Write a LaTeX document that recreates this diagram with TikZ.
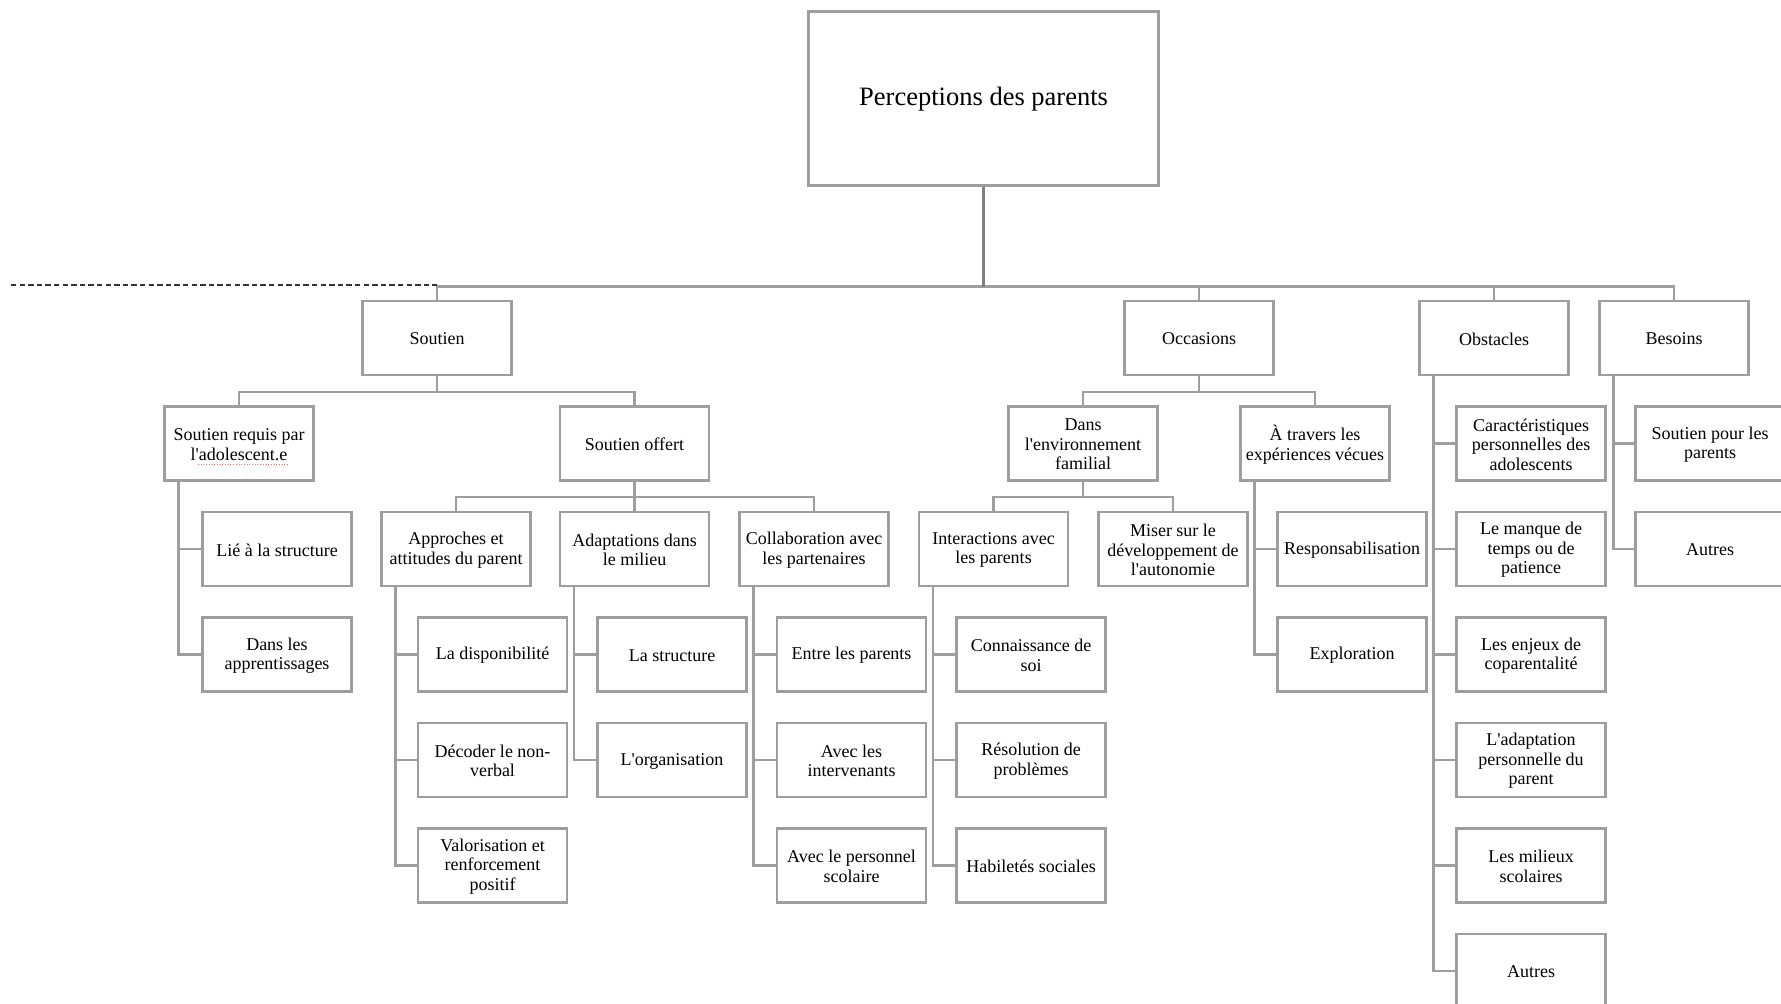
\documentclass[tikz,border=0pt]{standalone}
\usepackage{fontspec}
\setmainfont{Liberation Serif}[Ligatures=TeXOff]

\definecolor{boxgray}{RGB}{158,158,158}
\definecolor{trunkgray}{RGB}{128,128,128}
\definecolor{spellred}{RGB}{230,120,120}

\newcommand{\boxfont}{\fontsize{18}{19.5}\selectfont}
\newcommand{\titlefont}{\fontsize{26.5}{30}\selectfont}

\tikzset{
  frame/.style={draw=boxgray, line width=2.4pt, fill=white,
    minimum width=149pt, minimum height=74pt, inner sep=0pt},
  boxtext/.style={font=\boxfont, align=center, inner sep=0pt, yshift=-1pt},
  box/.style={frame, label={[boxtext]center:{#1}}},
  topbox/.style={frame, minimum width=350pt, minimum height=174pt,
    label={[boxtext, font=\titlefont]center:{#1}}},
  link/.style={draw=boxgray, line width=2.4pt},
  trunk/.style={draw=trunkgray, line width=3pt},
  guide/.style={draw=black!80, line width=1.5pt, dash pattern=on 5.3pt off 3.3pt},
  squiggle/.style={draw=spellred, line width=0.7pt, dotted},
}

\begin{document}
\begin{tikzpicture}[x=1pt, y=-1pt]
\useasboundingbox (0,0) rectangle (1781,1004);
\clip (0,0) rectangle (1781,1004);
\fill[white] (0,0) rectangle (1781,1004);

% root
\node[topbox={Perceptions des parents}] (top) at (983.6,98.3) {};

% first level
\node[box={Soutien}]   (soutien)   at (437,338)  {};
\node[box={Occasions}] (occasions) at (1199,338) {};
\node[box={Obstacles}] (obstacles) at (1494,338) {};
\node[box={Besoins}]   (besoins)   at (1674,338) {};

% second row
\node[box={Soutien requis par\\l'adolescent.e}]           (requis)      at (239,443.5)   {};
\node[box={Soutien offert}]                               (offert)      at (634.5,443.5) {};
\node[box={Dans\\l'environnement\\familial}]              (envfam)      at (1083,443.5)  {};
\node[box={À travers les\\expériences vécues}]            (travers)     at (1315,443.5)  {};
\node[box={Caractéristiques\\personnelles des\\adolescents}] (caract)   at (1531,443.5)  {};
\node[box={Soutien pour les\\parents}]                    (soutparents) at (1710,443.5)  {};

% third row
\node[box={Lié à la structure}]                      (lie)          at (277,549)   {};
\node[box={Approches et\\attitudes du parent}]       (approches)    at (456,549)   {};
\node[box={Adaptations dans\\le milieu}]             (adaptations)  at (634.5,549) {};
\node[box={Collaboration avec\\les partenaires}]     (collab)       at (814,549)   {};
\node[box={Interactions avec\\les parents}]          (interactions) at (993.5,549) {};
\node[box={Miser sur le\\développement de\\l'autonomie}] (miser)    at (1173,549)  {};
\node[box={Responsabilisation}]                      (respons)      at (1352,549)  {};
\node[box={Le manque de\\temps ou de\\patience}]     (manque)       at (1531,549)  {};
\node[box={Autres}]                                  (autresb)      at (1710,549)  {};

% fourth row
\node[box={Dans les\\apprentissages}]    (dansapp)      at (277,654.5)   {};
\node[box={La disponibilité}]            (dispo)        at (492.5,654.5) {};
\node[box={La structure}]                (structure)    at (672,654.5)   {};
\node[box={Entre les parents}]           (entre)        at (851.5,654.5) {};
\node[box={Connaissance de\\soi}]        (connaissance) at (1031,654.5)  {};
\node[box={Exploration}]                 (exploration)  at (1352,654.5)  {};
\node[box={Les enjeux de\\coparentalité}] (enjeux)      at (1531,654.5)  {};

% fifth row
\node[box={Décoder le non-\\verbal}]              (decoder)      at (492.5,760) {};
\node[box={L'organisation}]                       (organisation) at (672,760)   {};
\node[box={Avec les\\intervenants}]               (intervenants) at (851.5,760) {};
\node[box={Résolution de\\problèmes}]             (resolution)   at (1031,760)  {};
\node[box={L'adaptation\\personnelle du\\parent}] (adaptperso)   at (1531,760)  {};

% sixth row
\node[box={Valorisation et\\renforcement\\positif}] (valorisation) at (492.5,865.5) {};
\node[box={Avec le personnel\\scolaire}]            (personnel)    at (851.5,865.5) {};
\node[box={Habiletés sociales}]                     (habiletes)    at (1031,865.5)  {};
\node[box={Les milieux\\scolaires}]                 (milieux)      at (1531,865.5)  {};

% seventh row
\node[box={Autres}] (autreso) at (1531,971) {};

% root trunk and bus
\draw[link] (top.south) ++(0,100) coordinate (bus) -| (soutien.north)
            (bus) -| (occasions.north) (bus) -| (obstacles.north) (bus) -| (besoins.north);
\draw[trunk] (top.south) -- (bus);
\coordinate (guidestart) at (11,285.1);
\draw[guide] (guidestart) -- (guidestart -| soutien.north);

% tree branches
\draw[link] (soutien.south) -- ++(0,15.8) coordinate (b1) -| (requis.north) (b1) -| (offert.north);
\draw[link] (occasions.south) -- ++(0,15.8) coordinate (b2) -| (envfam.north) (b2) -| (travers.north);
\draw[link] (offert.south) -- ++(0,15.3) coordinate (b3) -| (approches.north)
            (b3) -- (adaptations.north) (b3) -| (collab.north);
\draw[link] (envfam.south) -- ++(0,15.3) coordinate (b4) -| (interactions.north) (b4) -| (miser.north);

% vertical lists
\foreach \p/\kids in {requis/{lie,dansapp},
                      approches/{dispo,decoder,valorisation},
                      adaptations/{structure,organisation},
                      collab/{entre,intervenants,personnel},
                      interactions/{connaissance,resolution,habiletes},
                      travers/{respons,exploration},
                      obstacles/{caract,manque,enjeux,adaptperso,milieux,autreso},
                      besoins/{soutparents,autresb}}{
  \foreach \k in \kids {
    \draw[link] ([xshift=15pt]\p.south west) |- (\k.west);
  }
}

% spelling mark under the second line of the first list head
\draw[squiggle] ([xshift=-41pt,yshift=-21pt]requis.center) -- ([xshift=49pt,yshift=-21pt]requis.center);
\end{tikzpicture}
\end{document}
